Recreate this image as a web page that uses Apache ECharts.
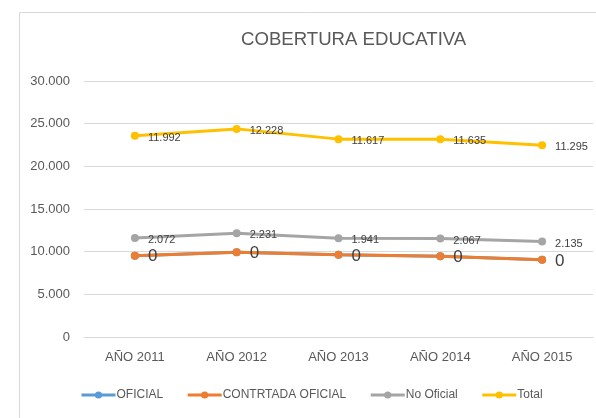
<!DOCTYPE html>
<html>
<head>
<meta charset="utf-8">
<script src="https://cdn.jsdelivr.net/npm/echarts@6/dist/echarts.min.js"></script>
<style>html,body{margin:0;padding:0;background:#fff}#c{width:596px;height:418px}</style>
</head>
<body>
<div id="c"></div>
<script>
var categories = ['AÑO 2011', 'AÑO 2012', 'AÑO 2013', 'AÑO 2014', 'AÑO 2015'];
var oficial = [9520, 9930, 9630, 9475, 9045];
var contratadaOficial = [0, 0, 0, 0, 0];
var noOficial = [2072, 2231, 1941, 2067, 2135];
var total = [11992, 12228, 11617, 11635, 11295];
var seriesNames = ['OFICIAL', 'CONTRTADA OFICIAL', 'No Oficial', 'Total'];
var colors = ['#5B9BD5', '#ED7D31', '#A5A5A5', '#FFC000'];

function fmt(v) {
  return String(Math.round(v)).replace(/\B(?=(\d{3})+(?!\d))/g, '.');
}
var font = 'Liberation Sans, Arial, sans-serif';
function mk(name, data, color, labelSize, showLabel, offY) {
  return {
    name: name, type: 'line', stack: 'all', data: data,
    color: color,
    lineStyle: { width: 3, color: color },
    itemStyle: { color: color },
    symbol: 'circle', symbolSize: 8,
    label: {
      show: showLabel, position: 'right', distance: 9, offset: [0, offY],
      fontSize: labelSize, color: '#404040', fontFamily: font,
      formatter: function (p) { return fmt(p.value); }
    },
    emphasis: { disabled: true }
  };
}
var chart = echarts.init(document.getElementById('c'), null, { renderer: 'canvas' });
chart.setOption({
  animation: false,
  backgroundColor: '#fff',
  graphic: [{
    type: 'rect', left: 17, top: 10,
    shape: { width: 600, height: 420 },
    style: { fill: 'none', stroke: '#D9D9D9', lineWidth: 1 }
  }],
  title: {
    text: 'COBERTURA EDUCATIVA', left: 236, top: 25,
    textStyle: { fontSize: 18.6, fontWeight: 'normal', color: '#595959', fontFamily: font }
  },
  legend: {
    data: seriesNames, bottom: 12, left: 75, itemGap: 23, itemWidth: 34, itemHeight: 9,
    lineStyle: { width: 3 },
    textStyle: { fontSize: 12, color: '#595959', fontFamily: font, padding: [0, 0, 0, -4] }
  },
  grid: { left: 84, right: 3, top: 81, bottom: 81, containLabel: false },
  xAxis: {
    type: 'category', data: categories, boundaryGap: true,
    axisLine: { show: true, lineStyle: { color: '#D9D9D9' } },
    axisTick: { show: false },
    axisLabel: { fontSize: 13, color: '#595959', fontFamily: font, margin: 14 }
  },
  yAxis: {
    type: 'value', min: 0, max: 30000, interval: 5000,
    axisLine: { show: false }, axisTick: { show: false },
    splitLine: { lineStyle: { color: '#D9D9D9', width: 1 } },
    axisLabel: { fontSize: 13, color: '#595959', fontFamily: font, margin: 14, formatter: fmt }
  },
  series: [
    mk(seriesNames[0], oficial, colors[0], 11, false, 0),
    mk(seriesNames[1], contratadaOficial, colors[1], 17, true, 1),
    mk(seriesNames[2], noOficial, colors[2], 11, true, 2),
    mk(seriesNames[3], total, colors[3], 11, true, 2)
  ]
});
</script>
</body>
</html>
